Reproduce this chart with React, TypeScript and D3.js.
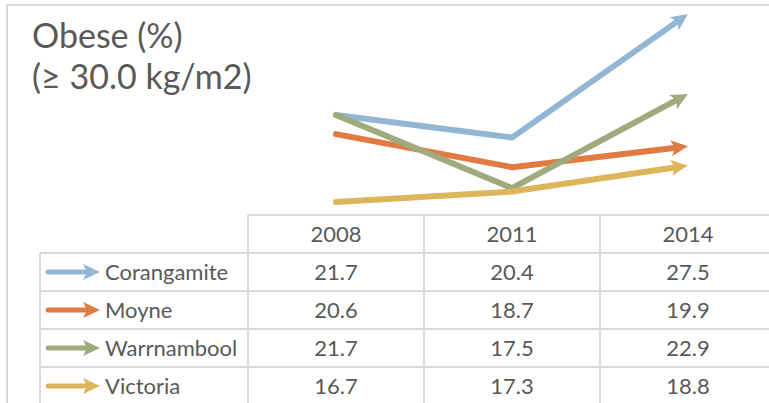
import { useEffect, useRef } from 'react';
import * as d3 from 'd3';

const years = ['2008', '2011', '2014'];
const seriesNames = ['Corangamite', 'Moyne', 'Warrnambool', 'Victoria'];
const corangamite = [21.7, 20.4, 27.5];
const moyne = [20.6, 18.7, 19.9];
const warrnambool = [21.7, 17.5, 22.9];
const victoria = [16.7, 17.3, 18.8];
const seriesColors = ['#93B6D5', '#E07B42', '#A0AB7D', '#DDB55A'];

const FONT = 'Lato, "Open Sans", sans-serif';
const TEXT = '#595959';
const GRID = '#D9D9D9';

const App = () => {
  const svgRef = useRef<SVGSVGElement>(null);
  const width = 769;
  const height = 403;

  useEffect(() => {
    if (!svgRef.current) return;
    const svg = d3.select(svgRef.current);
    svg.selectAll('*').remove();

    const series = [corangamite, moyne, warrnambool, victoria].map((values, i) => ({
      name: seriesNames[i],
      values,
      color: seriesColors[i],
    }));

    // outer frame (cropped on right and bottom)
    svg.append('rect')
      .attr('x', 7).attr('y', 5)
      .attr('width', 800).attr('height', 450)
      .attr('fill', 'white')
      .attr('stroke', GRID).attr('stroke-width', 2);

    // title
    const title = svg.append('text')
      .attr('font-family', FONT)
      .attr('font-size', 34)
      .attr('fill', TEXT);
    title.append('tspan').attr('x', 32).attr('y', 48).text('Obese (%)');
    title.append('tspan').attr('x', 32).attr('y', 89).text('(≥ 30.0 kg/m2)');

    // scales
    const x = d3.scaleBand().domain(years).range([248, 776]);
    const cx = (d: string) => (x(d) || 0) + x.bandwidth() / 2;
    const all = series.flatMap(s => s.values);
    const y = d3.scaleLinear().domain(d3.extent(all) as [number, number]).range([202, 14]);
    const rows = d3.scaleBand().domain(['header', ...seriesNames]).range([215, 405]);

    const arrowHead = (g: any, tx: number, ty: number, angle: number, color: string, len: number, half: number) => {
      g.append('path')
        .attr('d', `M0,0 L${-len},${-half} L${-len + 4},0 L${-len},${half} Z`)
        .attr('fill', color)
        .attr('transform', `translate(${tx},${ty}) rotate(${angle * 180 / Math.PI})`);
    };

    // lines
    const lineGroup = svg.append('g');
    series.forEach(s => {
      const pts: [number, number][] = s.values.map((v, i) => [cx(years[i]), y(v)]);
      const n = pts.length;
      const [x1, y1] = pts[n - 2];
      const [x2, y2] = pts[n - 1];
      const ang = Math.atan2(y2 - y1, x2 - x1);
      const trimmed = pts.slice();
      trimmed[n - 1] = [x2 - Math.cos(ang) * 12, y2 - Math.sin(ang) * 12];
      lineGroup.append('path')
        .attr('d', d3.line()(trimmed))
        .attr('fill', 'none')
        .attr('stroke', s.color)
        .attr('stroke-width', 6)
        .attr('stroke-linecap', 'round')
        .attr('stroke-linejoin', 'round');
      arrowHead(lineGroup, x2, y2, ang, s.color, 17, 8);
    });

    // table grid
    const grid = svg.append('g').attr('stroke', GRID).attr('stroke-width', 2);
    const headerTop = rows('header') || 0;
    const bodyTop = headerTop + rows.bandwidth();
    grid.append('line').attr('x1', 248).attr('x2', 776).attr('y1', headerTop).attr('y2', headerTop);
    seriesNames.forEach(name => {
      const yy = rows(name) || 0;
      grid.append('line').attr('x1', 40).attr('x2', 776).attr('y1', yy).attr('y2', yy);
    });
    grid.append('line').attr('x1', 40).attr('x2', 40).attr('y1', bodyTop).attr('y2', 410);
    years.forEach(yr => {
      const xx = x(yr) || 0;
      grid.append('line').attr('x1', xx).attr('x2', xx).attr('y1', headerTop).attr('y2', 410);
    });

    // header labels
    svg.append('g').selectAll('text')
      .data(years).enter().append('text')
      .attr('x', d => cx(d))
      .attr('y', headerTop + rows.bandwidth() / 2 + 8)
      .attr('text-anchor', 'middle')
      .attr('font-family', FONT).attr('font-size', 22)
      .attr('fill', TEXT)
      .text(d => d);

    // body rows
    series.forEach(s => {
      const mid = (rows(s.name) || 0) + rows.bandwidth() / 2;
      const g = svg.append('g');
      g.append('line')
        .attr('x1', 48).attr('x2', 88)
        .attr('y1', mid).attr('y2', mid)
        .attr('stroke', s.color).attr('stroke-width', 5)
        .attr('stroke-linecap', 'round');
      arrowHead(g, 100, mid, 0, s.color, 17, 8);
      g.append('text')
        .attr('x', 105).attr('y', mid + 8)
        .attr('font-family', FONT).attr('font-size', 22)
        .attr('fill', TEXT)
        .text(s.name);
      s.values.forEach((v, i) => {
        g.append('text')
          .attr('x', cx(years[i]))
          .attr('y', mid + 8)
          .attr('text-anchor', 'middle')
          .attr('font-family', FONT).attr('font-size', 22)
          .attr('fill', TEXT)
          .text(v.toFixed(1));
      });
    });
  }, []);

  return (
    <svg ref={svgRef} width={width} height={height}
      style={{ position: 'absolute', left: 0, top: 0, display: 'block', background: 'white' }} />
  );
};

export default App;
